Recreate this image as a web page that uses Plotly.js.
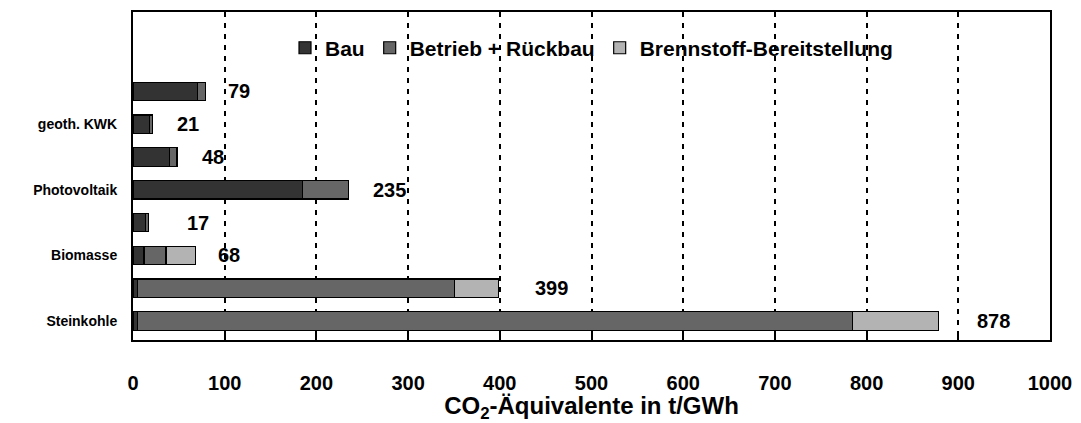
<!DOCTYPE html>
<html>
<head>
<meta charset="utf-8">
<script src="https://cdn.plot.ly/plotly-3.0.1.min.js"></script>
<style>html,body{margin:0;padding:0;background:#fff;}#chart{width:1081px;height:423px;}</style>
</head>
<body>
<div id="chart"></div>
<script>
// categories bottom -> top
const categories = ['Steinkohle', 'Kategorie 2', 'Biomasse', 'Kategorie 4', 'Photovoltaik', 'Kategorie 6', 'geoth. KWK', 'Kategorie 8'];
const tickLabels = ['Steinkohle', '', 'Biomasse', '', 'Photovoltaik', '', 'geoth. KWK', ''];
const seriesNames = ['Bau', 'Betrieb + Rückbau', 'Brennstoff-Bereitstellung'];
const bau        = [5, 5, 12, 14, 185, 40, 18, 70];
const betrieb    = [780, 346, 24, 3, 50, 8, 3, 9];
const brennstoff = [93, 48, 32, 0, 0, 0, 0, 0];
const totals     = [878, 399, 68, 17, 235, 48, 21, 79];
const xTicks = [0, 100, 200, 300, 400, 500, 600, 700, 800, 900, 1000];

// style: pixel gap between bar end and its total label
const labelGapPx = [37, 34, 21, 36, 22, 23, 23, 21];

const colors = ['#333333', '#666666', '#b3b3b3'];
const FONT = 'Liberation Sans, Arial, sans-serif';
const series = [bau, betrieb, brennstoff];

const traces = series.map((vals, i) => ({
  type: 'bar',
  orientation: 'h',
  name: seriesNames[i],
  y: categories,
  x: vals,
  marker: {color: colors[i], line: {color: '#000', width: 1.2}},
  hoverinfo: 'x+name'
}));

const annotations = categories.map((c, i) => ({
  x: totals[i], y: c, xref: 'x', yref: 'y',
  text: '<b>' + totals[i] + '</b>',
  showarrow: false, xanchor: 'left', yanchor: 'middle', xshift: labelGapPx[i],
  font: {family: FONT, size: 20, color: '#000'}
}));

const layout = {
  width: 1081, height: 423,
  margin: {l: 133, r: 31, t: 12, b: 83},
  paper_bgcolor: '#fff', plot_bgcolor: '#fff',
  barmode: 'stack',
  bargap: 0.44,
  font: {family: FONT, color: '#000'},
  showlegend: true,
  legend: {
    orientation: 'h', x: 0.5, xanchor: 'center', y: 0.89, yanchor: 'middle',
    font: {family: FONT, size: 21, color: '#000', weight: 'bold'},
    bgcolor: 'rgba(0,0,0,0)', traceorder: 'normal'
  },
  xaxis: {
    range: [0, 1000], tickvals: xTicks, ticktext: xTicks.map(String),
    showgrid: true, gridcolor: '#000', gridwidth: 2, griddash: '5px,6px',
    zeroline: false,
    showline: true, linecolor: '#000', linewidth: 2, mirror: true,
    ticks: 'inside', ticklen: 6, tickwidth: 2, tickcolor: '#000',
    ticklabelstandoff: 24,
    tickfont: {family: FONT, size: 20, color: '#000', weight: 'bold'},
    title: {text: 'CO<sub>2</sub>-Äquivalente in t/GWh', font: {family: FONT, size: 24, color: '#000', weight: 'bold'}, standoff: 6}
  },
  yaxis: {
    type: 'category', categoryorder: 'array', categoryarray: categories,
    tickvals: categories, ticktext: tickLabels,
    range: [-0.58, 9.42],
    showgrid: false, zeroline: false,
    showline: true, linecolor: '#000', linewidth: 2, mirror: true,
    ticks: '', ticklabelstandoff: 11,
    tickfont: {family: FONT, size: 14, color: '#000', weight: 'bold'}
  },
  annotations: annotations
};

Plotly.newPlot('chart', traces, layout, {displayModeBar: false, staticPlot: true});
</script>
</body>
</html>
